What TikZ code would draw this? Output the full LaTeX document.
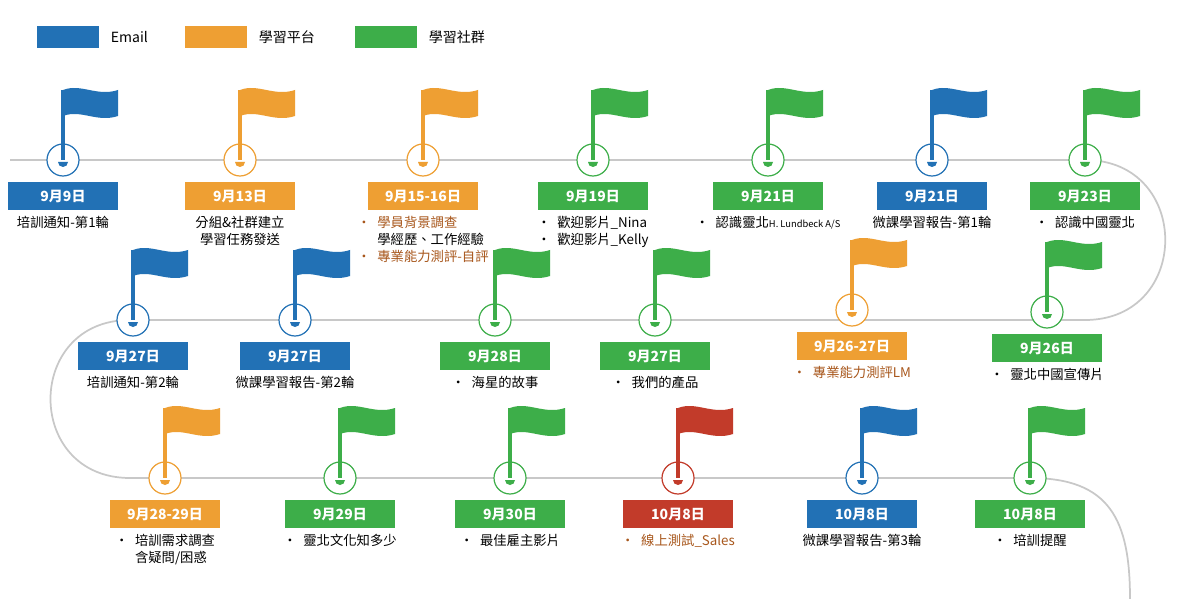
\documentclass[tikz,border=0pt]{standalone}
\usepackage{fontspec}
\setmainfont{Noto Sans CJK TC}
\usetikzlibrary{positioning}
\definecolor{cblue}{HTML}{2271B5}
\definecolor{corange}{HTML}{EE9F33}
\definecolor{cgreen}{HTML}{3DAE49}
\definecolor{cred}{HTML}{C23B2A}
\definecolor{cbrown}{HTML}{A8571C}
\definecolor{cline}{HTML}{C8C8C8}
\tikzset{
  datebox/.style={fill=#1,text=white,font=\bfseries\fontsize{10.5}{12}\selectfont,minimum width=82pt,minimum height=21pt,inner sep=0pt},
  ring/.style={draw=#1,fill=white,circle,minimum size=24pt,inner sep=0pt,line width=0.9pt},
  note/.style={font=\fontsize{10}{13}\selectfont,align=left,inner sep=1pt,below=3pt of #1},
  legendbox/.style={fill=#1,minimum width=47pt,minimum height=16pt,inner sep=0pt},
}
% milestone: name, x, y, colour, date
\newcommand{\milestone}[5]{%
  \node (#1) [ring=#4] at (#2,#3) {};
  \fill[#4] (#2-1.6,#3) rectangle (#2+1.6,#3-70);
  \fill[#4] (#2,#3-70) .. controls (#2+18,#3-77) and (#2+34,#3-63) .. (#2+55,#3-70)
    -- (#2+55,#3-44) .. controls (#2+34,#3-37) and (#2+18,#3-51) .. (#2,#3-44) -- cycle;
  \fill[#4] (#2-5,#3+2) arc (180:0:5) -- cycle;
  \node (#1d) [datebox=#4] at (#2,#3+36) {#5};
}
\begin{document}
\begin{tikzpicture}[x=0.75pt,y=-0.75pt]
\useasboundingbox[fill=white] (0,0) rectangle (1200,599);

% legend
\node (lemail) [legendbox=cblue] at (68,37) {};
\node [right=5pt of lemail,font=\fontsize{10.5}{12}\selectfont] {Email};
\node (lplat) [legendbox=corange] at (216,37) {};
\node [right=5pt of lplat,font=\fontsize{10.5}{12}\selectfont] {學習平台};
\node (lcomm) [legendbox=cgreen] at (386,37) {};
\node [right=5pt of lcomm,font=\fontsize{10.5}{12}\selectfont] {學習社群};

% timeline
\coordinate (start) at (10,160);
\coordinate (end) at (1130,599);
\draw[cline,line width=1.3pt] (start) -- (1085,160)
  .. controls (1192,160) and (1192,320) .. (1085,320) -- (130,320)
  .. controls (24,320) and (24,478) .. (130,478) -- (1030,478)
  .. controls (1110,478) and (1130,520) .. (end);

% row 1
\milestone{m1}{63}{160}{cblue}{9月9日}
\node [note=m1d,align=center] {培訓通知-第1輪};
\milestone{m2}{240}{160}{corange}{9月13日}
\node [note=m2d,align=center] {分組\&社群建立\\學習任務發送};
\milestone{m3}{423}{160}{corange}{9月15-16日}
\node [note=m3d] {\textcolor{cbrown}{•\enspace 學員背景調查}\\\phantom{•}\enspace 學經歷、工作經驗\\\textcolor{cbrown}{•\enspace 專業能力測評-自評}};
\milestone{m4}{593}{160}{cgreen}{9月19日}
\node [note=m4d] {•\enspace 歡迎影片\_Nina\\•\enspace 歡迎影片\_Kelly};
\milestone{m5}{768}{160}{cgreen}{9月21日}
\node [note=m5d] {•\enspace 認識靈北{\scriptsize H. Lundbeck A/S}};
\milestone{m6}{932}{160}{cblue}{9月21日}
\node [note=m6d,align=center] {微課學習報告-第1輪};
\milestone{m7}{1085}{160}{cgreen}{9月23日}
\node [note=m7d] {•\enspace 認識中國靈北};

% row 2
\milestone{n1}{133}{320}{cblue}{9月27日}
\node [note=n1d,align=center] {培訓通知-第2輪};
\milestone{n2}{295}{320}{cblue}{9月27日}
\node [note=n2d,align=center] {微課學習報告-第2輪};
\milestone{n3}{495}{320}{cgreen}{9月28日}
\node [note=n3d] {•\enspace 海星的故事};
\milestone{n4}{655}{320}{cgreen}{9月27日}
\node [note=n4d] {•\enspace 我們的產品};
\milestone{n5}{852}{310}{corange}{9月26-27日}
\node [note=n5d,text=cbrown] {•\enspace 專業能力測評LM};
\milestone{n6}{1047}{312}{cgreen}{9月26日}
\node [note=n6d] {•\enspace 靈北中國宣傳片};

% row 3
\milestone{p1}{165}{478}{corange}{9月28-29日}
\node [note=p1d] {•\enspace 培訓需求調查\\\phantom{•}\enspace 含疑問/困惑};
\milestone{p2}{340}{478}{cgreen}{9月29日}
\node [note=p2d] {•\enspace 靈北文化知多少};
\milestone{p3}{510}{478}{cgreen}{9月30日}
\node [note=p3d] {•\enspace 最佳雇主影片};
\milestone{p4}{678}{478}{cred}{10月8日}
\node [note=p4d,text=cbrown] {•\enspace 線上測試\_Sales};
\milestone{p5}{862}{478}{cblue}{10月8日}
\node [note=p5d,align=center] {微課學習報告-第3輪};
\milestone{p6}{1030}{478}{cgreen}{10月8日}
\node [note=p6d] {•\enspace 培訓提醒};
\end{tikzpicture}
\end{document}
